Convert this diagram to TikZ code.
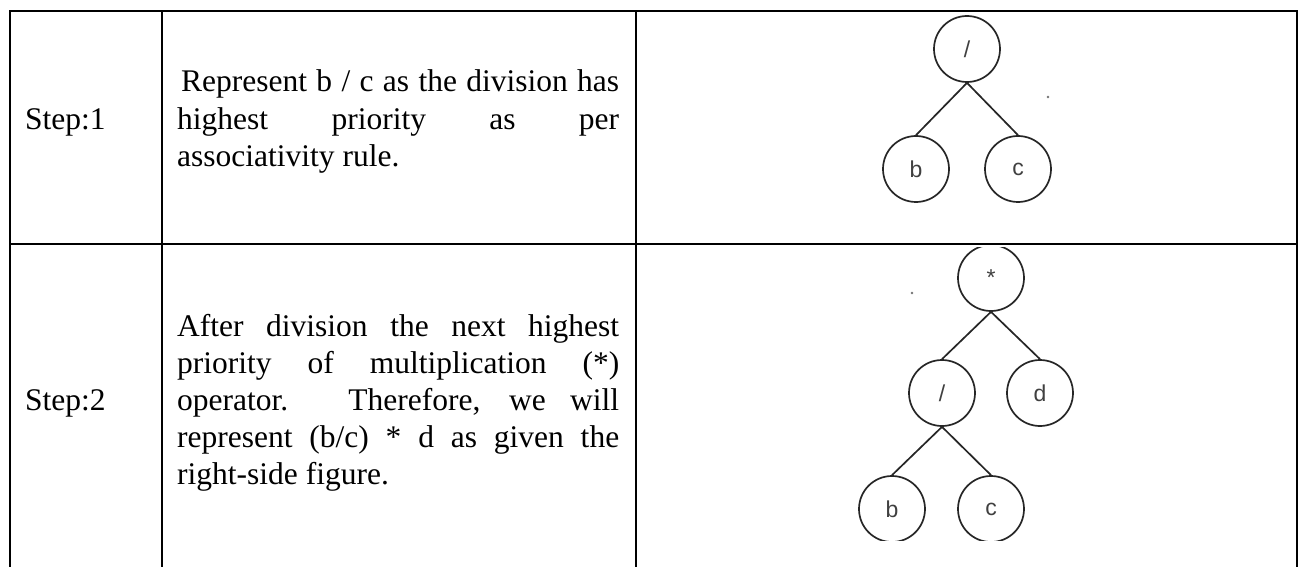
\documentclass[tikz,border=0pt]{standalone}
\usepackage{fontspec}
\setmainfont{Liberation Serif}
\newfontfamily\treefont{Liberation Sans}
\newcommand\jline[2]{\makebox[#1pt][s]{#2}}
\begin{document}
\begin{tikzpicture}[x=1pt,y=-1pt,
  rule/.style={line width=2.7pt, black, line join=miter},
  tnode/.style={circle, draw=black!85, line width=1.7pt, minimum size=66pt, inner sep=0pt,
    font=\treefont\fontsize{23}{23}\selectfont, text=black!75},
  tedge/.style={draw=black!85, line width=1.7pt},
  body/.style={anchor=base west, inner sep=0pt, font=\fontsize{31.5}{37}\selectfont},
  speck/.style={fill=black!55}
]
\useasboundingbox (0,0) rectangle (1299,567);
\fill[white] (0,0) rectangle (1299,567);

% table rules
\draw[rule] (10,567) -- (10,11) -- (1297,11) -- (1297,567);
\draw[rule] (162,11) -- (162,567);
\draw[rule] (636,11) -- (636,567);
\draw[rule] (10,244) -- (1297,244);

% row 1 text
\node[body] (s1) at (25,130) {Step:1};
\node[body] (r1a) at (181,92) {\jline{438}{Represent b / c as the division has}};
\node[body] (r1b) at (177,130) {\jline{442}{highest priority as per}};
\node[body] (r1c) at (177,167) {associativity rule.};

% row 2 text
\node[body] (s2) at (25,410) {Step:2};
\node[body] (r2a) at (177,336) {\jline{442}{After division the next highest}};
\node[body] (r2b) at (177,373) {\jline{442}{priority of multiplication (*)}};
\node[body] (r2c) at (177,410) {\jline{442}{operator. Therefore, we will}};
\node[body] (r2d) at (177,447) {\jline{442}{represent (b/c) * d as given the}};
\node[body] (r2e) at (177,484) {right-side figure.};

% tree 1
\node[tnode] (t1r) at (967,49) {/};
\node[tnode] (t1b) at (916,169) {b};
\node[tnode] (t1c) at (1018,169) {c};
\draw[tedge] (t1r.south) -- (t1b.north);
\draw[tedge] (t1r.south) -- (t1c.north);
\fill[speck] (1048,97) circle (1.3pt);

% tree 2
\begin{scope}
\clip (640,247) rectangle (1294,540);
\node[tnode] (t2r) at (991,278) {*};
\node[tnode] (t2s) at (942,393) {/};
\node[tnode] (t2d) at (1040,393) {d};
\node[tnode] (t2b) at (892,509) {b};
\node[tnode] (t2c) at (991,509) {c};
\draw[tedge] (t2r.south) -- (t2s.north);
\draw[tedge] (t2r.south) -- (t2d.north);
\draw[tedge] (t2s.south) -- (t2b.north);
\draw[tedge] (t2s.south) -- (t2c.north);
\end{scope}
\fill[speck] (912,293) circle (1.3pt);
\end{tikzpicture}
\end{document}
